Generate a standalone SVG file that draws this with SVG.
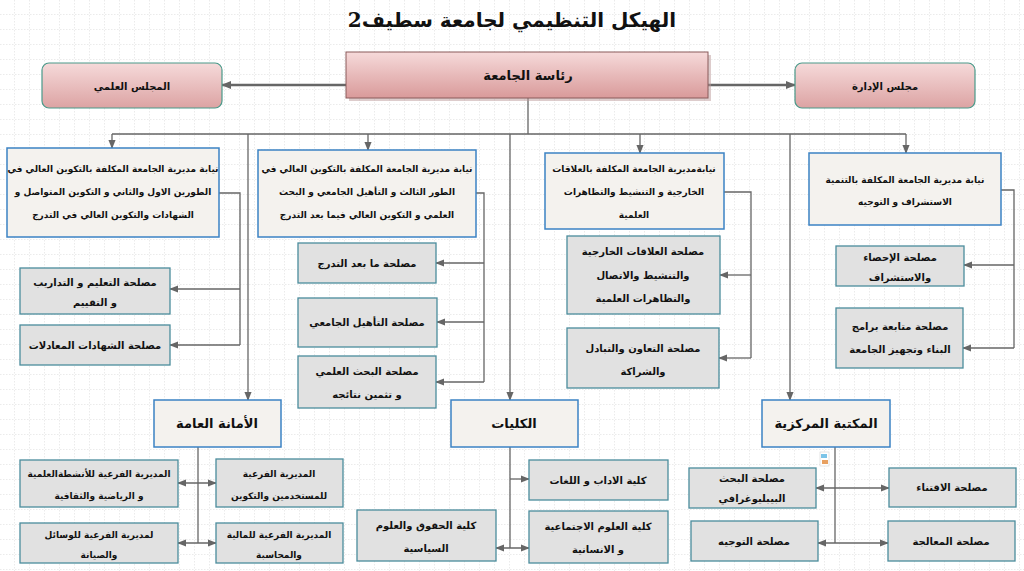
<svg xmlns="http://www.w3.org/2000/svg" width="1024" height="571" viewBox="0 0 1024 571">
<style>
text{font-family:"DejaVu Sans","Noto Sans",sans-serif;font-weight:bold;fill:#111;text-anchor:middle}
.t{font-size:10px}
.s{font-size:9px}
.h{font-size:13px}
.big{fill:#f4f2ee;stroke:#3b82c4;stroke-width:1.5}
.sub{fill:#e1e1e1;stroke:#4a8c9c;stroke-width:1.3}
.pink{fill:url(#pg);stroke:#8a5a5a;stroke-width:1}
.cn path{fill:none;stroke:#666;stroke-width:1.3}
.thick{stroke-width:2.5!important}
</style>
<defs>
<pattern id="grid" width="15" height="15" patternUnits="userSpaceOnUse">
<path d="M15 0V15M0 15H15" fill="none" stroke="#bbb" stroke-width="0.6" stroke-dasharray="1.5,1.5"/>
</pattern>
<linearGradient id="pg" x1="0" y1="0" x2="0" y2="1"><stop offset="0" stop-color="#f6dada"/><stop offset="1" stop-color="#d99a9a"/></linearGradient>
<linearGradient id="pg2" x1="0" y1="0" x2="0" y2="1"><stop offset="0" stop-color="#f6dada"/><stop offset="1" stop-color="#dca3a3"/></linearGradient>
<marker id="a" viewBox="0 0 10 10" refX="9" refY="5" markerWidth="7" markerHeight="7" orient="auto-start-reverse"><path d="M0 1L10 5L0 9z" fill="#666"/></marker>
<marker id="b" viewBox="0 0 10 10" refX="9" refY="5" markerWidth="4" markerHeight="4" orient="auto-start-reverse"><path d="M0 1L10 5L0 9z" fill="#666"/></marker>
</defs>
<rect width="1024" height="571" fill="#fff"/>
<rect width="1024" height="571" fill="url(#grid)"/>
<text x="512" y="27" style="font-size:20px;font-family:'DejaVu Serif','DejaVu Sans',serif">الهيكل التنظيمي لجامعة سطيف2</text>

<g class="cn">
<path class="thick" d="M346 85H222" marker-end="url(#b)"/>
<path class="thick" d="M708 85H795" marker-end="url(#b)"/>
<path d="M528 98V134M112 134H906"/>
<path d="M112 134V148" marker-end="url(#a)"/>
<path d="M368 134V150" marker-end="url(#a)"/>
<path d="M640 134V153" marker-end="url(#a)"/>
<path d="M906 134V153" marker-end="url(#a)"/>
<path d="M248 134V400" marker-end="url(#a)"/>
<path d="M510 134V400" marker-end="url(#a)"/>
<path d="M790 134V400" marker-end="url(#a)"/>
<path d="M219 193H240V345"/>
<path d="M240 289H170" marker-end="url(#a)"/>
<path d="M240 345H170" marker-end="url(#a)"/>
<path d="M476 193H484V382"/>
<path d="M484 263H436" marker-end="url(#a)"/>
<path d="M484 322H437" marker-end="url(#a)"/>
<path d="M484 382H436" marker-end="url(#a)"/>
<path d="M724 192H751V358"/>
<path d="M751 275H720" marker-end="url(#a)"/>
<path d="M751 358H719" marker-end="url(#a)"/>
<path d="M1001 190H1014V348"/>
<path d="M1014 265H964" marker-end="url(#a)"/>
<path d="M1014 348H963" marker-end="url(#a)"/>
<path d="M198 447V543"/>
<path d="M178 483H216" marker-start="url(#a)" marker-end="url(#a)"/>
<path d="M178 543H216" marker-start="url(#a)" marker-end="url(#a)"/>
<path d="M510 447V548"/>
<path d="M510 479H529" marker-end="url(#a)"/>
<path d="M496 548H529" marker-start="url(#a)" marker-end="url(#a)"/>
<path d="M835 447V543"/>
<path d="M816 488H889" marker-start="url(#a)" marker-end="url(#a)"/>
<path d="M818 543H888" marker-start="url(#a)" marker-end="url(#a)"/>
</g>

<g id="head"><rect x="349" y="55" width="362" height="46" fill="#b99" opacity="0.5"/><rect x="346" y="52" width="362" height="46" class="pink"/><text x="528" y="80" class="h">رئاسة الجامعة</text></g>
<g id="council-sci"><rect x="42" y="63" width="180" height="45" rx="7" fill="url(#pg2)" stroke="#4a9a8a" stroke-width="1.2"/><text x="132" y="90" class="t">المجلس العلمي</text></g>
<g id="council-adm"><rect x="795" y="63" width="180" height="45" rx="7" fill="url(#pg2)" stroke="#4a9a8a" stroke-width="1.2"/><text x="885" y="90" class="t">مجلس الإدارة</text></g>

<g id="vr1"><rect x="7" y="148" width="212" height="89" class="big"/><text class="s" x="113" y="172">نيابة مديرية الجامعة المكلفة بالتكوين العالي في</text><text class="s" x="113" y="195">الطورين الاول والثاني و التكوين المتواصل و</text><text class="s" x="113" y="218">الشهادات والتكوين العالي في التدرج</text></g>
<g id="vr2"><rect x="258" y="150" width="218" height="87" class="big"/><text class="s" x="367" y="172">نيابة مديرية الجامعة المكلفة بالتكوين العالي في</text><text class="s" x="367" y="195">الطور الثالث و التأهيل الجامعي و البحث</text><text class="s" x="367" y="218">العلمي و التكوين العالي فيما بعد التدرج</text></g>
<g id="vr3"><rect x="545" y="153" width="179" height="76" class="big"/><text class="s" x="634" y="172">نيابةمديرية الجامعة المكلفة بالعلاقات</text><text class="s" x="634" y="195">الخارجية و التنشيط والتظاهرات</text><text class="s" x="634" y="218">العلمية</text></g>
<g id="vr4"><rect x="809" y="153" width="192" height="72" class="big"/><text class="s" x="905" y="183">نيابة مديرية الجامعة المكلفة بالتنمية</text><text class="s" x="905" y="205">الاستشراف و التوجيه</text></g>

<g id="s11"><rect x="20" y="268" width="150" height="46" class="sub"/><text class="t" x="95" y="286">مصلحة التعليم و التداريب</text><text class="t" x="95" y="306">و التقييم</text></g>
<g id="s12"><rect x="20" y="325" width="150" height="40" class="sub"/><text class="t" x="95" y="349">مصلحة الشهادات المعادلات</text></g>
<g id="s21"><rect x="298" y="243" width="138" height="40" class="sub"/><text class="t" x="367" y="267">مصلحة ما بعد التدرج</text></g>
<g id="s22"><rect x="298" y="298" width="139" height="49" class="sub"/><text class="t" x="367" y="326">مصلحة التأهيل الجامعي</text></g>
<g id="s23"><rect x="298" y="356" width="138" height="52" class="sub"/><text class="t" x="367" y="375">مصلحة البحث العلمي</text><text class="t" x="367" y="398">و تثمين نتائجه</text></g>
<g id="s31"><rect x="567" y="236" width="153" height="78" class="sub"/><text class="t" x="643" y="255">مصلحة العلاقات الخارجية</text><text class="t" x="643" y="279">والتنشيط والاتصال</text><text class="t" x="643" y="302">والتظاهرات العلمية</text></g>
<g id="s32"><rect x="567" y="328" width="152" height="60" class="sub"/><text class="t" x="643" y="352">مصلحة التعاون والتبادل</text><text class="t" x="643" y="375">والشراكة</text></g>
<g id="s41"><rect x="836" y="246" width="128" height="40" class="sub"/><text class="t" x="900" y="261">مصلحة الإحصاء</text><text class="t" x="900" y="281">والاستشراف</text></g>
<g id="s42"><rect x="836" y="308" width="127" height="60" class="sub"/><text class="t" x="900" y="330">مصلحة متابعة برامج</text><text class="t" x="900" y="353">البناء وتجهيز الجامعة</text></g>

<g id="amana"><rect x="154" y="400" width="127" height="47" class="big"/><text class="h" x="217" y="428">الأمانة العامة</text></g>
<g id="a1"><rect x="20" y="460" width="158" height="47" class="sub"/><text class="s" x="99" y="477">المديرية الفرعية للأنشطةالعلمية</text><text class="s" x="99" y="499">و الرياضية والثقافية</text></g>
<g id="a2"><rect x="216" y="459" width="127" height="48" class="sub"/><text class="s" x="279" y="477">المديرية الفرعية</text><text class="s" x="279" y="499">للمستخدمين والتكوين</text></g>
<g id="a3"><rect x="20" y="523" width="158" height="40" class="sub"/><text class="s" x="99" y="538">لمديرية الفرعية للوسائل</text><text class="s" x="99" y="558">والصيانة</text></g>
<g id="a4"><rect x="216" y="523" width="127" height="40" class="sub"/><text class="s" x="279" y="538">المديرية الفرعية للمالية</text><text class="s" x="279" y="558">والمحاسبة</text></g>

<g id="kol"><rect x="451" y="400" width="127" height="47" class="big"/><text class="h" x="514" y="428">الكليات</text></g>
<g id="k1"><rect x="529" y="460" width="139" height="40" class="sub"/><text class="t" x="598" y="484">كلية الاداب و اللغات</text></g>
<g id="k2"><rect x="529" y="511" width="139" height="52" class="sub"/><text class="t" x="598" y="530">كلية العلوم الاجتماعية</text><text class="t" x="598" y="553">و الانسانية</text></g>
<g id="k3"><rect x="357" y="510" width="139" height="51" class="sub"/><text class="t" x="426" y="529">كلية الحقوق والعلوم</text><text class="t" x="426" y="552">السياسية</text></g>

<g id="lib"><rect x="762" y="400" width="128" height="47" class="big"/><text class="h" x="826" y="428">المكتبة المركزية</text></g>
<g id="icon"><rect x="820" y="452" width="9" height="14" fill="#fff" stroke="#ccc" stroke-width="0.5"/><rect x="821" y="454" width="6" height="4" fill="#7cc4e8"/><rect x="822" y="460" width="6" height="4" fill="#e8a060"/></g>
<g id="l1"><rect x="689" y="468" width="127" height="40" class="sub"/><text class="t" x="752" y="482">مصلحة البحث</text><text class="t" x="752" y="502">البيبليوغرافي</text></g>
<g id="l2"><rect x="889" y="468" width="127" height="39" class="sub"/><text class="t" x="952" y="491">مصلحة الاقتناء</text></g>
<g id="l3"><rect x="691" y="521" width="127" height="40" class="sub"/><text class="t" x="754" y="545">مصلحة التوجيه</text></g>
<g id="l4"><rect x="888" y="521" width="127" height="40" class="sub"/><text class="t" x="951" y="545">مصلحة المعالجة</text></g>
</svg>
